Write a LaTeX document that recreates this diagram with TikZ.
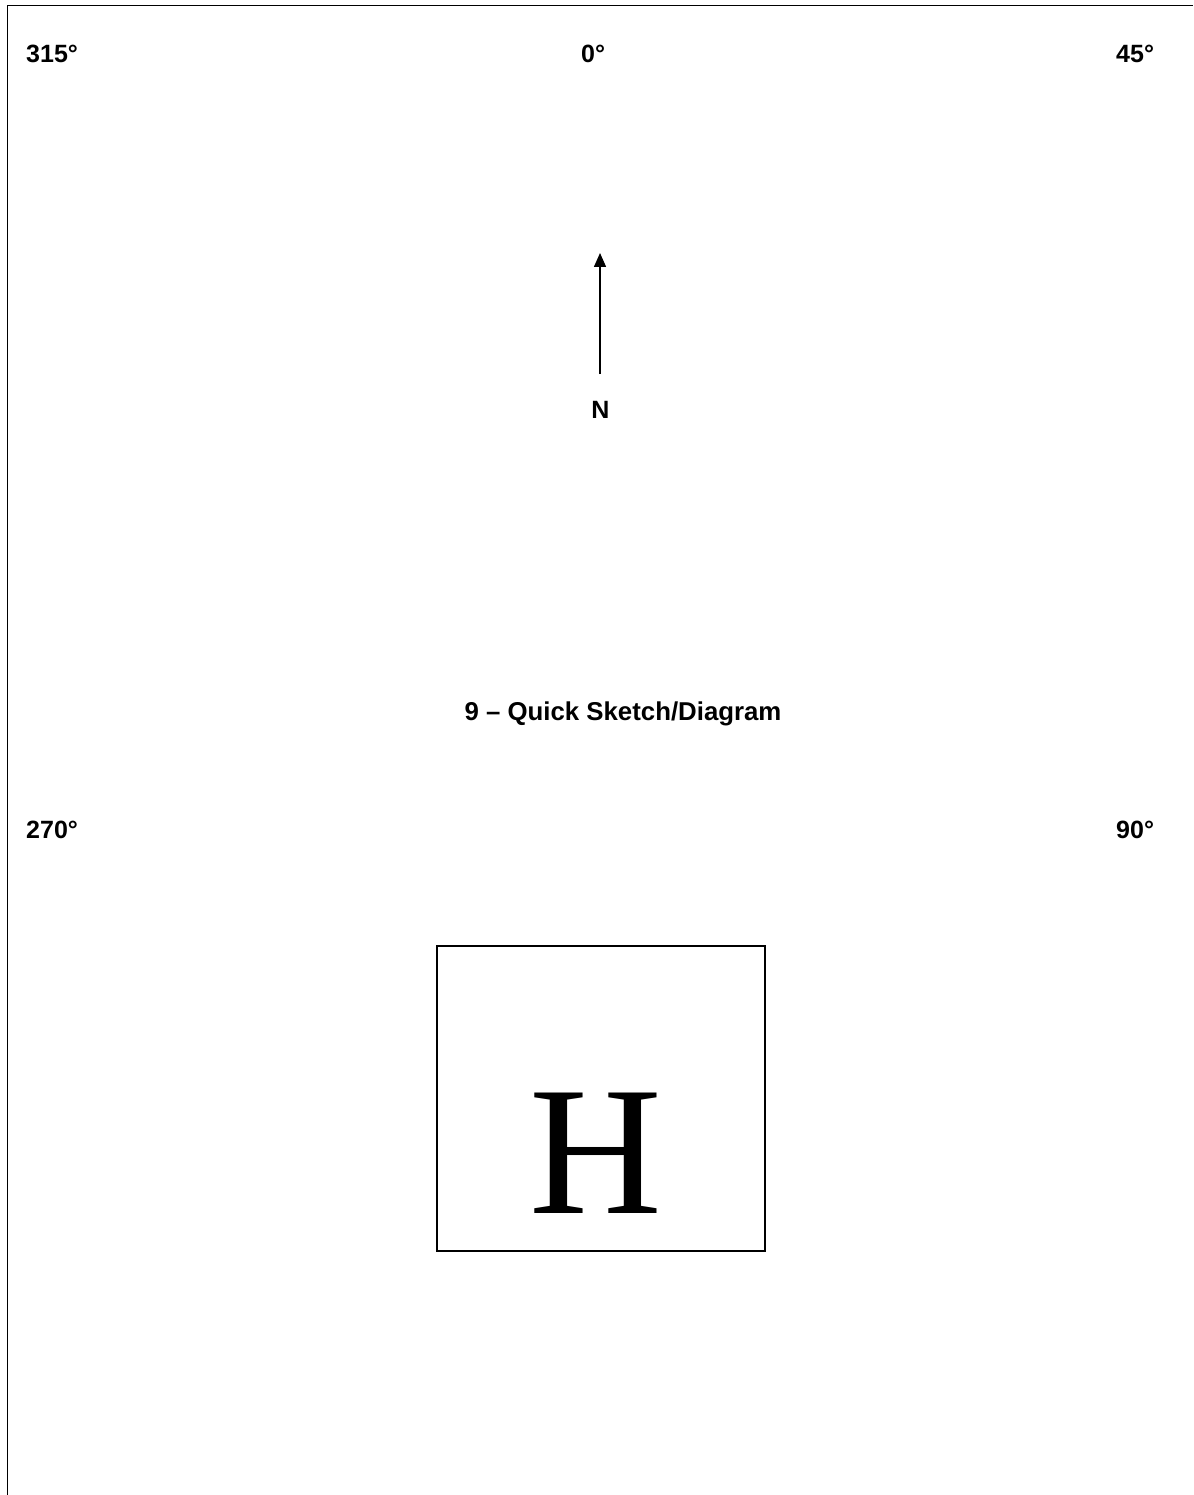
\documentclass[tikz,border=0pt]{standalone}
\usepackage{fontspec}
\setmainfont{Liberation Sans}
\newfontfamily\hfont{Liberation Serif}
\usetikzlibrary{arrows.meta}
\begin{document}
\begin{tikzpicture}[x=1pt,y=-1pt,
  lbl/.style={font=\fontsize{25}{30}\selectfont\bfseries, inner sep=0pt},
  frameline/.style={line width=1.8pt, black},
  boxline/.style={line width=1.3pt, black}]
\useasboundingbox (0,0) rectangle (1193,1495);
\fill[white] (0,0) rectangle (1193,1495);
% frame (top and left edges)
\coordinate (fbl) at (7.5,1495);
\coordinate (ftl) at (7.5,5.5);
\coordinate (ftr) at (1193,5.5);
\draw[frameline] (fbl) -- (ftl) -- (ftr);
% compass labels
\node[lbl, anchor=base west] (l315) at (26,63) {315°};
\node[lbl, anchor=base west] (l0) at (581,63) {0°};
\node[lbl, anchor=base west] (l45) at (1116,63) {45°};
\node[lbl, anchor=base west] (l270) at (26,838) {270°};
\node[lbl, anchor=base west] (l90) at (1116,838) {90°};
% north arrow
\coordinate (ntail) at (600,374);
\coordinate (nhead) at (600,253);
\draw[line width=1.5pt, -{Triangle[length=14pt,width=12pt]}] (ntail) -- (nhead);
\node[lbl, anchor=base] (nlabel) at (600.5,418) {N};
% title
\node[lbl, font=\fontsize{25.8}{30}\selectfont\bfseries, anchor=base] (title) at (623,720) {9 – Quick Sketch/Diagram};
% helipad box
\node[draw, boxline, minimum width=328pt, minimum height=305pt, inner sep=0pt] (box) at (601,1098.5) {};
\node[font=\hfont\fontsize{184}{200}\selectfont, anchor=base, inner sep=0pt] (hletter) at (596,1213) {H};
\end{tikzpicture}
\end{document}
